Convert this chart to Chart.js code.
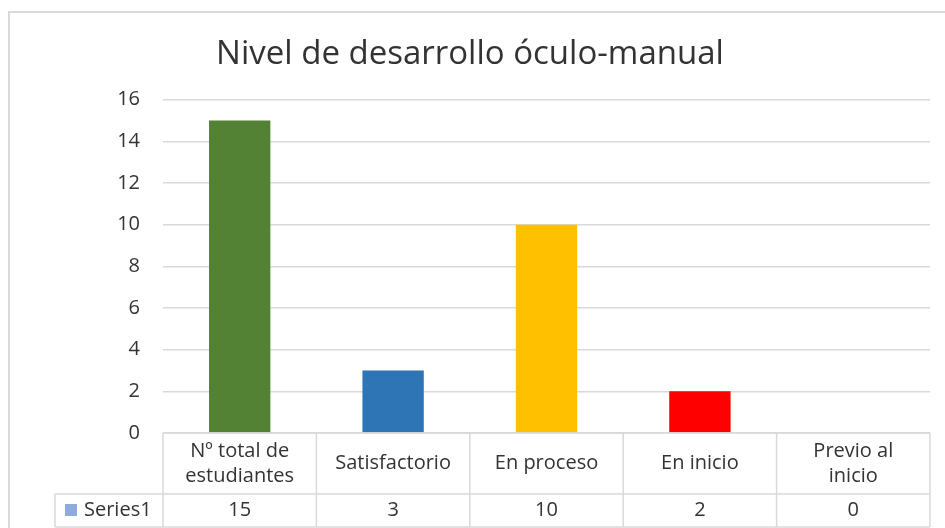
<!DOCTYPE html>
<html>
<head>
<meta charset="utf-8">
<script src="https://cdn.jsdelivr.net/npm/chart.js@4"></script>
<style>
  body { margin: 0; background: #fff; }
  #chart { display: block; }
</style>
</head>
<body>
<canvas id="chart" width="945" height="528"></canvas>
<script>
// Datos del gráfico
const categories = [['Nº total de', 'estudiantes'], 'Satisfactorio', 'En proceso', 'En inicio', ['Previo al', 'inicio']];
const values = [15, 3, 10, 2, 0];
const barColors = ['#548235', '#2E75B6', '#FFC000', '#FF0000', '#A5A5A5'];
const seriesName = 'Series1';
const yMax = 16;
const yStep = 2;

const FONT = '"Open Sans", "Noto Sans", sans-serif';
const TEXT = '#333333';
const LINE = '#D9D9D9';

// Marco exterior + tabla de datos bajo el eje
const tablePlugin = {
  id: 'tabla',
  beforeDraw(chart) {
    const ctx = chart.ctx;
    ctx.save();
    ctx.strokeStyle = LINE;
    ctx.lineWidth = 2;
    ctx.strokeRect(9, 12, 960, 540);
    ctx.restore();
  },
  afterDraw(chart) {
    const ctx = chart.ctx;
    const area = chart.chartArea;
    const x = chart.scales.x;
    const n = categories.length;
    const colW = (area.right - area.left) / n;
    const top = area.bottom;
    const mid = 494;
    const bot = 527;
    const legendLeft = 55;

    ctx.save();
    ctx.strokeStyle = LINE;
    ctx.lineWidth = 1.5;
    ctx.beginPath();
    ctx.moveTo(area.left, top); ctx.lineTo(area.right, top);
    ctx.moveTo(legendLeft, mid); ctx.lineTo(area.right, mid);
    ctx.moveTo(legendLeft, bot); ctx.lineTo(area.right, bot);
    for (let i = 0; i <= n; i++) {
      const px = area.left + i * colW;
      ctx.moveTo(px, top); ctx.lineTo(px, bot);
    }
    ctx.moveTo(legendLeft, mid); ctx.lineTo(legendLeft, bot);
    ctx.stroke();

    ctx.fillStyle = TEXT;
    ctx.font = '20px ' + FONT;
    ctx.textAlign = 'center';
    ctx.textBaseline = 'middle';
    categories.forEach((c, i) => {
      const cx = x.getPixelForValue(i);
      const lines = Array.isArray(c) ? c : [c];
      const lh = 25;
      const cy = (top + mid) / 2 - (lines.length - 1) * lh / 2;
      lines.forEach((l, j) => ctx.fillText(l, cx, cy + j * lh));
      ctx.fillText(String(values[i]), cx, (mid + bot) / 2);
    });

    // leyenda de la serie
    ctx.fillStyle = '#8FAADC';
    ctx.fillRect(65, 504, 12, 12);
    ctx.fillStyle = TEXT;
    ctx.textAlign = 'left';
    ctx.fillText(seriesName, 84, (mid + bot) / 2);
    ctx.restore();
  }
};

new Chart(document.getElementById('chart'), {
  type: 'bar',
  data: {
    labels: categories,
    datasets: [{
      label: seriesName,
      data: values,
      backgroundColor: barColors,
      categoryPercentage: 1,
      barPercentage: 0.4
    }]
  },
  options: {
    responsive: false,
    animation: false,
    layout: { padding: { left: 10, right: 15, top: 6, bottom: 95 } },
    plugins: {
      legend: { display: false },
      tooltip: { enabled: false },
      title: {
        display: true,
        text: 'Nivel de desarrollo óculo-manual',
        color: TEXT,
        font: { family: FONT, size: 33, weight: 'normal' },
        padding: { top: 29, bottom: 25 }
      }
    },
    scales: {
      x: { display: false },
      y: {
        min: 0,
        max: yMax,
        ticks: { stepSize: yStep, color: TEXT, padding: 23, font: { family: FONT, size: 20 } },
        grid: { color: LINE, lineWidth: 1.5, drawTicks: false },
        border: { display: false },
        afterFit(scale) { scale.width = 153; }
      }
    }
  },
  plugins: [tablePlugin]
});
</script>
</body>
</html>
